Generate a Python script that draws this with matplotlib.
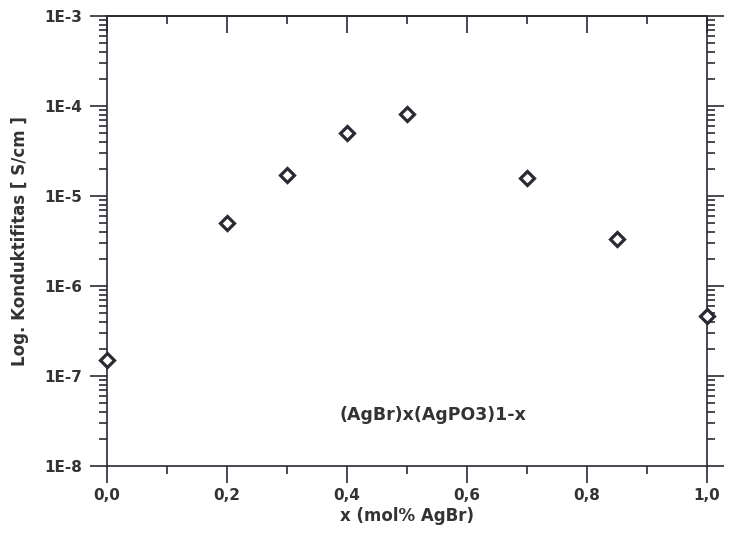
import matplotlib
matplotlib.use("Agg")
import matplotlib.pyplot as plt
from matplotlib.ticker import LogLocator, FixedLocator, NullFormatter, FuncFormatter

# values
x_frac = [0.0, 0.2, 0.3, 0.4, 0.5, 0.7, 0.85, 1.0]
conductivity = [1.5e-7, 5.0e-6, 1.71e-5, 5.0e-5, 8.15e-5, 1.58e-5, 3.33e-6, 4.6e-7]
x_ticks = [0.0, 0.2, 0.4, 0.6, 0.8, 1.0]
x_minor = [0.1, 0.3, 0.5, 0.7, 0.9]
y_ticks = [1e-8, 1e-7, 1e-6, 1e-5, 1e-4, 1e-3]
y_tick_labels = ["1E-8", "1E-7", "1E-6", "1E-5", "1E-4", "1E-3"]

ink = "#2a2a33"
txt = "#333333"
plt.rcParams["font.family"] = ["DejaVu Sans"]
plt.rcParams["font.weight"] = "bold"

fig = plt.figure(figsize=(7.36, 5.35), dpi=100)
ax = fig.add_axes([0.1454, 0.129, 0.8152, 0.841])

ax.plot(x_frac, conductivity, linestyle="none", marker="D", markersize=7.5,
        markerfacecolor="white", markeredgecolor=ink, markeredgewidth=2.3,
        clip_on=False, zorder=5)

ax.set_yscale("log")
ax.set_xlim(0, 1.0)
ax.set_ylim(1e-8, 1e-3)

ax.yaxis.set_major_locator(FixedLocator(y_ticks))
ax.set_yticklabels(y_tick_labels)
ax.yaxis.set_minor_locator(LogLocator(base=10, subs=range(2, 10)))
ax.yaxis.set_minor_formatter(NullFormatter())

ax.xaxis.set_major_locator(FixedLocator(x_ticks))
ax.xaxis.set_minor_locator(FixedLocator(x_minor))
ax.xaxis.set_major_formatter(FuncFormatter(lambda v, p: f"{v:.1f}".replace(".", ",")))

for sp in ax.spines.values():
    sp.set_color(ink)
    sp.set_linewidth(1.2)

ax.tick_params(axis="both", which="both", colors=ink, width=1.2, labelsize=11)
ax.tick_params(axis="both", which="major", length=12)
ax.tick_params(axis="both", which="minor", length=6)
ax.tick_params(axis="y", which="both", direction="out", left=True, right=True, pad=6)
ax.tick_params(axis="x", which="both", direction="out", bottom=True, top=False, pad=4)
for lab in ax.get_xticklabels() + ax.get_yticklabels():
    lab.set_fontweight("bold")
    lab.set_color(txt)

top = ax.secondary_xaxis("top")
top.xaxis.set_major_locator(FixedLocator(x_ticks))
top.xaxis.set_minor_locator(FixedLocator(x_minor))
top.tick_params(axis="x", which="both", direction="in", colors=ink, width=1.2,
                labeltop=False)
top.tick_params(axis="x", which="major", length=12)
top.tick_params(axis="x", which="minor", length=6)
top.spines["top"].set_color(ink)
top.spines["top"].set_linewidth(1.2)

ax.set_xlabel("x (mol% AgBr)", fontsize=12, fontweight="bold", color=txt, labelpad=3)
ax.set_ylabel("Log. Konduktifitas [ S/cm ]", fontsize=12, fontweight="bold",
              color=txt, labelpad=11)

ax.text(0.388, 3.7e-8, "(AgBr)x(AgPO3)1-x", fontsize=12.5, fontweight="bold",
        color=txt, ha="left", va="center")

fig.savefig("out.png", dpi=100)
